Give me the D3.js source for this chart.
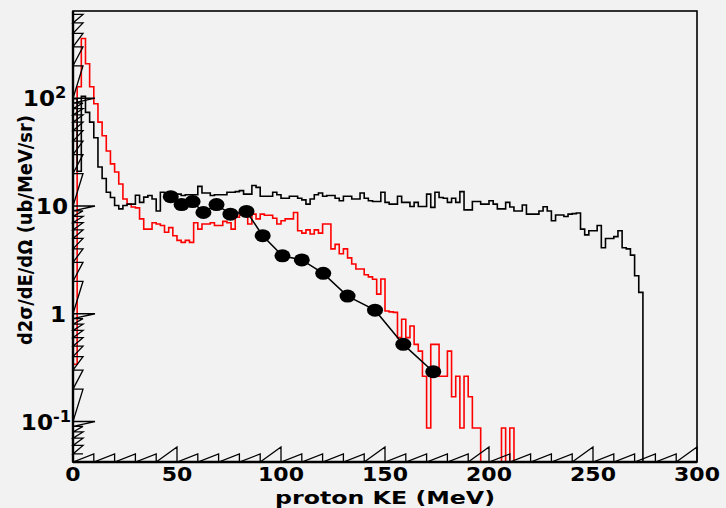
<!DOCTYPE html>
<html><head><meta charset="utf-8">
<script src="https://cdn.jsdelivr.net/npm/d3@7"></script>
<style>body{margin:0;background:#f2f2f2;}svg{display:block;}</style>
</head><body>
<svg id="c" width="726" height="508"></svg>
<script>
// ---------- data ----------
const binWidthMeV = 2;
const blackHist = [99,21,104,74,60,43,23,18,13.4,12,10.1,9.4,10.1,10.4,10.4,12.6,10.8,12.1,12.5,11.6,
9.0,13.4,12.7,12.9,12.5,12.9,12.5,12.7,12.7,12.7,15.2,13.2,13.2,12.5,12.7,12.7,12.7,13.4,13.4,13.6,
13.9,12.9,12.9,15.5,14.9,12.3,12.3,12.3,13.4,12.7,11.8,11.8,12.3,12.3,11.8,11.4,10.4,11.6,12.7,13.2,
12.3,12.5,12.5,11.8,11.2,12.3,12.3,11.6,11.6,13.2,11.8,11.2,11.0,11.0,13.4,10.8,10.4,10.4,12.3,10.8,
10.8,9.9,10.8,9.9,9.9,12.9,9.7,13.4,12.0,11.8,10.8,11.8,10.8,13.6,9.2,9.2,11.0,11.0,10.4,10.4,
11.2,10.4,9.4,9.4,10.8,9.8,9.0,9.0,10.2,8.4,8.4,8.4,9.0,9.85,9.0,7.3,8.25,8.25,8.0,8.4,
8.5,8.6,6.1,5.4,5.9,5.9,6.6,4.1,5.0,5.0,5.2,5.9,4.1,4.0,3.5,2.25,1.58,0,0,0,
0,0,0,0,0,0,0,0,0,0];
const redHist = [0.34,128,358,209,128,89,60,44.8,32.4,24.6,20.7,16.0,11.6,10.4,9.8,9.6,7.6,6.1,6.1,7.0,
6.8,6.6,5.7,6.3,5.3,4.8,4.6,4.8,4.6,7.0,6.1,6.8,6.8,7.0,6.6,6.6,7.2,7.0,6.1,7.85,
8.25,8.25,6.8,8.4,7.6,8.4,8.2,8.2,7.7,6.8,7.3,7.6,7.6,8.7,5.9,5.6,6.0,5.5,6.0,5.6,
6.8,6.8,4.0,4.4,3.6,4.0,3.3,2.9,2.6,2.6,2.3,2.2,2.09,1.52,2.1,1.06,1.04,1.03,0.60,0.89,
0.60,0.77,0.52,0.45,0.263,0.087,0.52,0.52,0.263,0.263,0.45,0.17,0.263,0.087,0.263,0.17,0.087,0.087,0,0,
0,0,0,0.087,0,0.087,0,0,0,0,0,0,0,0,0,0,0,0,0,0,
0,0,0,0,0,0,0,0,0,0,0,0,0,0,0,0,0,0,0,0,
0,0,0,0,0,0,0,0,0,0];
const dataKE = [47.0,52.2,57.5,62.7,69.0,75.7,83.4,91.2,100.7,110.0,120.3,132.0,145.2,158.8,173.2];
const dataXS = [12.2,10.3,11.0,8.7,10.3,8.4,8.9,5.3,3.45,3.16,2.37,1.46,1.08,0.52,0.29];
const xTickLabels = ["0","50","100","150","200","250","300"];
const yTickLabels = [{v:0.1,base:"10",sup:"-1"},{v:1,base:"1",sup:""},{v:10,base:"10",sup:""},{v:100,base:"10",sup:"2"}];
const xTitle = "proton KE (MeV)";
const yTitle = "d2σ/dE/dΩ (ub/MeV/sr)";

// ---------- layout ----------
const L=73,R=697,T=11,B=462;
const svg=d3.select("#c");
svg.append("rect").attr("width",726).attr("height",508).attr("fill","#f2f2f2");
const x=d3.scaleLinear().domain([0,300]).range([L,R]);
const yMin=0.0421,yMax=645;
const y=d3.scaleLog().domain([yMin,yMax]).range([B,T]);
const yc=v=>y(Math.max(yMin,Math.min(yMax,v)));

// histograms
function histPath(vals){
  const pts=vals.map((v,i)=>[i*binWidthMeV,v]);
  pts.push([vals.length*binWidthMeV,vals[vals.length-1]]);
  return d3.line().x(d=>x(d[0])).y(d=>yc(d[1])).curve(d3.curveStepAfter)(pts);
}
const g=svg.append("g");
g.append("path").attr("d",histPath(redHist)).attr("fill","none").attr("stroke","#ff0000").attr("stroke-width",1.6);
g.append("path").attr("d",histPath(blackHist)).attr("fill","none").attr("stroke","#000").attr("stroke-width",1.6);

// data points
const pts=dataKE.map((k,i)=>[k,dataXS[i]]);
g.append("path").attr("d",d3.line().x(d=>x(d[0])).y(d=>y(d[1]))(pts)).attr("fill","none").attr("stroke","#000").attr("stroke-width",1.5);
g.selectAll("ellipse").data(pts).join("ellipse").attr("cx",d=>x(d[0])).attr("cy",d=>y(d[1])).attr("rx",8).attr("ry",6.5).attr("fill","#000");

// frame
svg.append("rect").attr("x",L).attr("y",T).attr("width",R-L).attr("height",B-T).attr("fill","none").attr("stroke","#000").attr("stroke-width",1.6);
svg.append("line").attr("x1",L).attr("x2",L).attr("y1",T).attr("y2",B).attr("stroke","#000").attr("stroke-width",2.4);
svg.append("line").attr("x1",L).attr("x2",R).attr("y1",B).attr("y2",B).attr("stroke","#000").attr("stroke-width",2.4);

// x ticks (sawtooth)
const xt=d3.range(0,301,10);
const xtPts=[];
xt.forEach(v=>{const h=(v%50===0)?15:8;xtPts.push([x(v),B-h]);xtPts.push([x(v),B]);});
svg.append("path").attr("d",d3.line()(xtPts)).attr("fill","none").attr("stroke","#000").attr("stroke-width",1.3);

// y ticks (zigzag)
const yt=[];
[0.01,0.1,1,10,100].forEach(dec=>{for(let k=1;k<=9;k++){const v=dec*k;if(v>=yMin&&v<=yMax)yt.push({v,major:k===1});}});
const ytPts=[];
yt.forEach(t=>{const h=t.major?22:10;ytPts.push([L+h,y(t.v)]);ytPts.push([L,y(t.v)]);});
svg.append("path").attr("d",d3.line()(ytPts)).attr("fill","none").attr("stroke","#000").attr("stroke-width",1.3);

// labels
const font="DejaVu Sans";
xTickLabels.forEach(s=>{
  svg.append("text").attr("x",0).attr("y",0).attr("text-anchor","middle")
   .attr("transform",`translate(${x(+s)},481) scale(1.1,1)`)
   .attr("font-family",font).attr("font-weight","bold").attr("font-size",20).text(s);
});
yTickLabels.forEach(t=>{
  const yy=y(t.v)+8;
  const endX=t.sup?(t.sup==="2"?55:53):(t.base==="1"?66:68);
  svg.append("text").attr("text-anchor","end").attr("transform",`translate(${endX},${yy}) scale(1.1,1)`)
   .attr("font-family",font).attr("font-weight","bold").attr("font-size",21).text(t.base);
  if(t.sup){
    svg.append("text").attr("text-anchor","start").attr("transform",`translate(${endX},${yy-8}) scale(1.08,1)`)
     .attr("font-family",font).attr("font-weight","bold").attr("font-size",15).text(t.sup);
  }
});
svg.append("text").attr("x",385).attr("y",504).attr("text-anchor","middle")
  .attr("font-family",font).attr("font-weight","bold").attr("font-size",18)
  .attr("textLength",220).attr("lengthAdjust","spacingAndGlyphs").text(xTitle);
svg.append("text").attr("transform","translate(32,230) rotate(-90)").attr("text-anchor","middle")
  .attr("font-family",font).attr("font-weight","bold").attr("font-size",20)
  .attr("textLength",230).attr("lengthAdjust","spacingAndGlyphs").text(yTitle);
</script>
</body></html>
